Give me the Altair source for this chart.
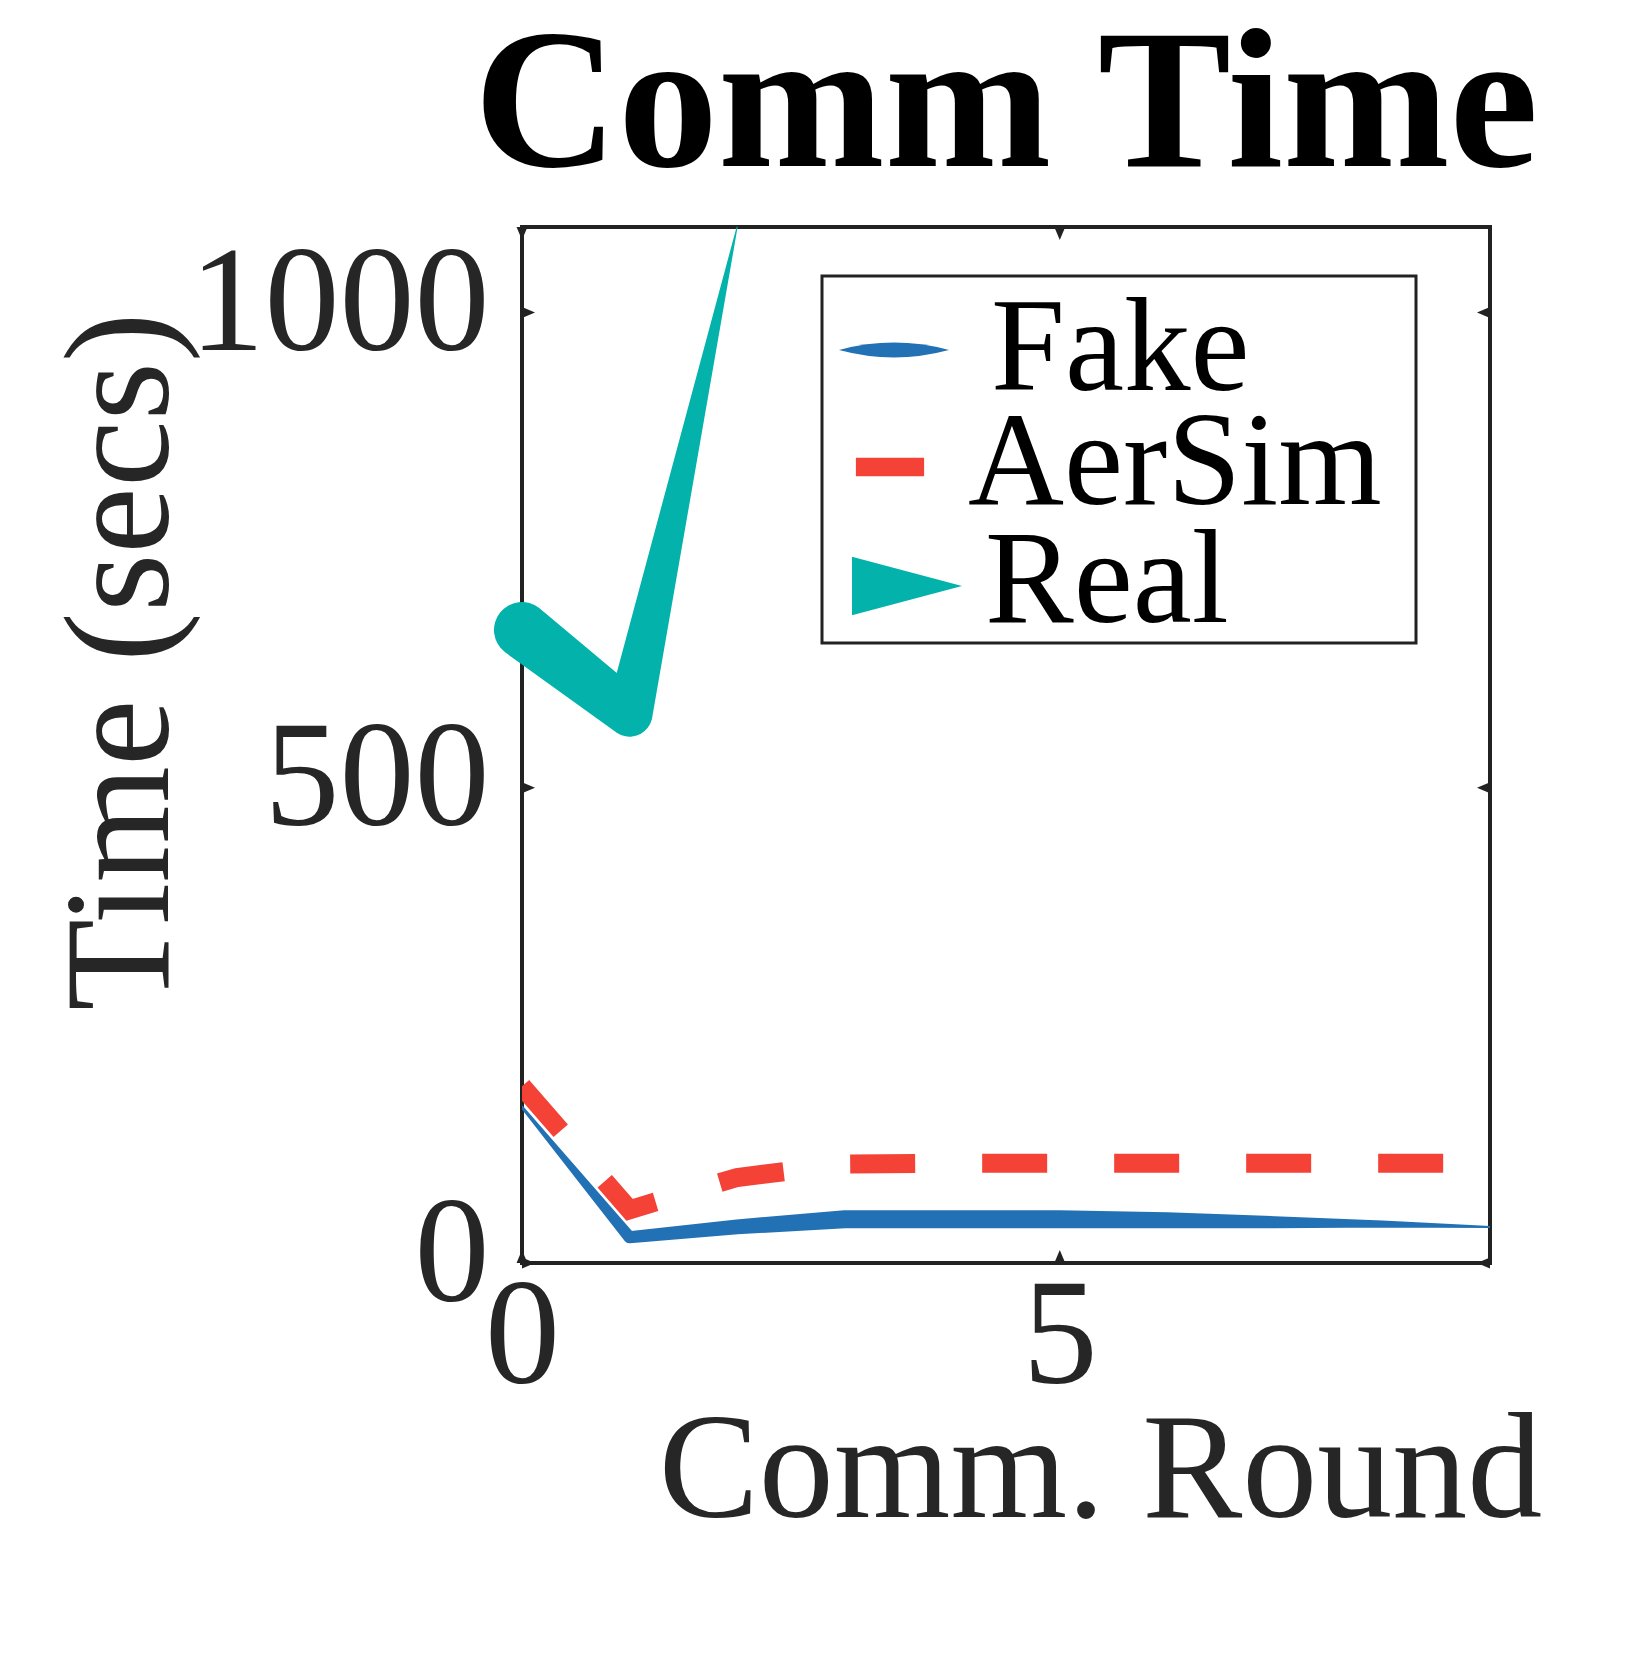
import altair as alt
import pandas as pd

# ---- data ----
rounds = [0, 1, 2, 3, 4, 5, 6, 7, 8, 9]
fake_time = [164, 27, 38, 46, 46, 46, 45, 43, 41, 38]
aersim_time = [186, 56, 90, 104, 105, 105, 105, 105, 105, 105]
real_rounds = [0, 1, 2]
real_time = [666, 578, 1090]

series = ["Fake", "AerSim", "Real"]
colors = ["#2271b5", "#f44336", "#03b2aa"]

x_ticks = [0, 5]
y_ticks = [0, 500, 1000]

# stroke widths (style) of the hand-drawn looking trails
fake_width = [3, 12, 15, 18, 18, 18, 16, 12, 7, 2]
real_width = [56, 46, 0]

FONT = "Liberation Serif"
AXIS_COLOR = "#262626"

fake_df = pd.DataFrame({"round": rounds, "time": fake_time, "w": fake_width})
aersim_df = pd.DataFrame({"round": rounds, "time": aersim_time})
real_df = pd.DataFrame({"round": real_rounds, "time": real_time, "w": real_width})

x_scale = alt.Scale(domain=[0, 9], nice=False, zero=False)
y_scale = alt.Scale(domain=[0, 1090], nice=False)

x_axis = alt.Axis(
    values=x_ticks, format="d", title="Comm. Round", grid=False, ticks=False, domain=False,
    labelFont=FONT, labelFontSize=150, labelColor=AXIS_COLOR, labelPadding=0,
    labelFlush=False, labelOverlap=False, labelLimit=1000,
    titleFont=FONT, titleFontSize=150, titleFontWeight="normal", titleColor=AXIS_COLOR,
    titleX=578, titleY=253, titleAlign="center", titleBaseline="alphabetic", titleLimit=2000,
)
y_axis = alt.Axis(
    values=y_ticks, format="d", title="Time (secs)", grid=False, ticks=False, domain=False,
    labelFont=FONT, labelFontSize=150, labelColor=AXIS_COLOR, labelPadding=33,
    labelOffset=-8, labelFlush=False, labelOverlap=False, labelLimit=1000,
    titleFont=FONT, titleFontSize=150, titleFontWeight="normal", titleColor=AXIS_COLOR,
    titleAngle=270, titleX=-355, titleY=434, titleAlign="center", titleBaseline="alphabetic",
    titleLimit=2000,
)

X = alt.X("round:Q", scale=x_scale, axis=x_axis)
Y = alt.Y("time:Q", scale=y_scale, axis=y_axis)
Xn = alt.X("round:Q", scale=x_scale)
Yn = alt.Y("time:Q", scale=y_scale)

fake = alt.Chart(fake_df).mark_trail(clip=True, color=colors[0]).encode(
    x=X, y=Y, size=alt.Size("w:Q", scale=None, legend=None)
)
aersim = alt.Chart(aersim_df).mark_line(
    clip=True, color=colors[1], strokeWidth=19, strokeDash=[65, 67], strokeDashOffset=6,
    strokeCap="butt"
).encode(x=Xn, y=Yn)
real = alt.Chart(real_df).mark_trail(clip=False, color=colors[2]).encode(
    x=Xn, y=Yn, size=alt.Size("w:Q", scale=None, legend=None)
)

# inward pointing tick markers on the frame
tri_right = "M0,-0.42 L1,0 L0,0.42 Z"
tri_left = "M0,-0.42 L-1,0 L0,0.42 Z"
tri_down = "M-0.42,0 L0,1 L0.42,0 Z"
tri_up = "M-0.42,0 L0,-1 L0.42,0 Z"
left_ticks = pd.DataFrame({"round": [0] * len(y_ticks), "time": y_ticks})
right_ticks = pd.DataFrame({"round": [9] * len(y_ticks), "time": y_ticks})
top_ticks = pd.DataFrame({"round": x_ticks, "time": [1090] * len(x_ticks)})
bottom_ticks = pd.DataFrame({"round": x_ticks, "time": [0] * len(x_ticks)})


def tick_layer(df, shape):
    return alt.Chart(df).mark_point(filled=True, shape=shape, size=676, color="#222",
                                    opacity=1).encode(x=Xn, y=Yn)


ticks = (tick_layer(left_ticks, tri_right) + tick_layer(right_ticks, tri_left)
         + tick_layer(top_ticks, tri_down) + tick_layer(bottom_ticks, tri_up))

# ---- legend (drawn as a framed box with symbol + label rows) ----
one = pd.DataFrame({"a": [0]})
legend_box = alt.Chart(one).mark_rect(
    fillOpacity=0, stroke="#222", strokeWidth=3
).encode(x=alt.value(300), x2=alt.value(894), y=alt.value(49), y2=alt.value(416))

lens = "M-1,0 Q0,-0.27 1,0 Q0,0.27 -1,0 Z"
bar = "M-0.62,-0.17 L0.62,-0.17 L0.62,0.17 L-0.62,0.17 Z"
tri = "M-1,-0.53 L1,0 L-1,0.53 Z"
legend_shapes = [lens, bar, tri]
legend_sym_x = [372, 368, 385]
legend_row_y = [123, 240, 359]
legend_txt_x = [469, 446, 463]
legend_txt_y = [163, 277, 395]

legend_layers = []
for i, name in enumerate(series):
    legend_layers.append(
        alt.Chart(one).mark_point(filled=True, shape=legend_shapes[i], size=12100,
                                  color=colors[i], opacity=1, strokeWidth=0)
        .encode(x=alt.value(legend_sym_x[i]), y=alt.value(legend_row_y[i]))
    )
    legend_layers.append(
        alt.Chart(one).mark_text(font=FONT, fontSize=133, color="black", align="left",
                                 baseline="alphabetic", text=name)
        .encode(x=alt.value(legend_txt_x[i]), y=alt.value(legend_txt_y[i]))
    )

chart = alt.layer(fake, real, aersim, ticks, legend_box, *legend_layers).properties(
    width=968, height=1036,
    title=alt.Title("Comm Time", font=FONT, fontSize=200, fontWeight="bold", color="black",
                    anchor="middle", offset=19),
    padding={"left": 514, "top": 219, "right": 150, "bottom": 380},
    autosize=alt.AutoSizeParams(type="none"),
    background="white",
).configure_view(stroke="#222", strokeWidth=4)

chart.save("out.html", embed_options={"renderer": "svg", "actions": False})
